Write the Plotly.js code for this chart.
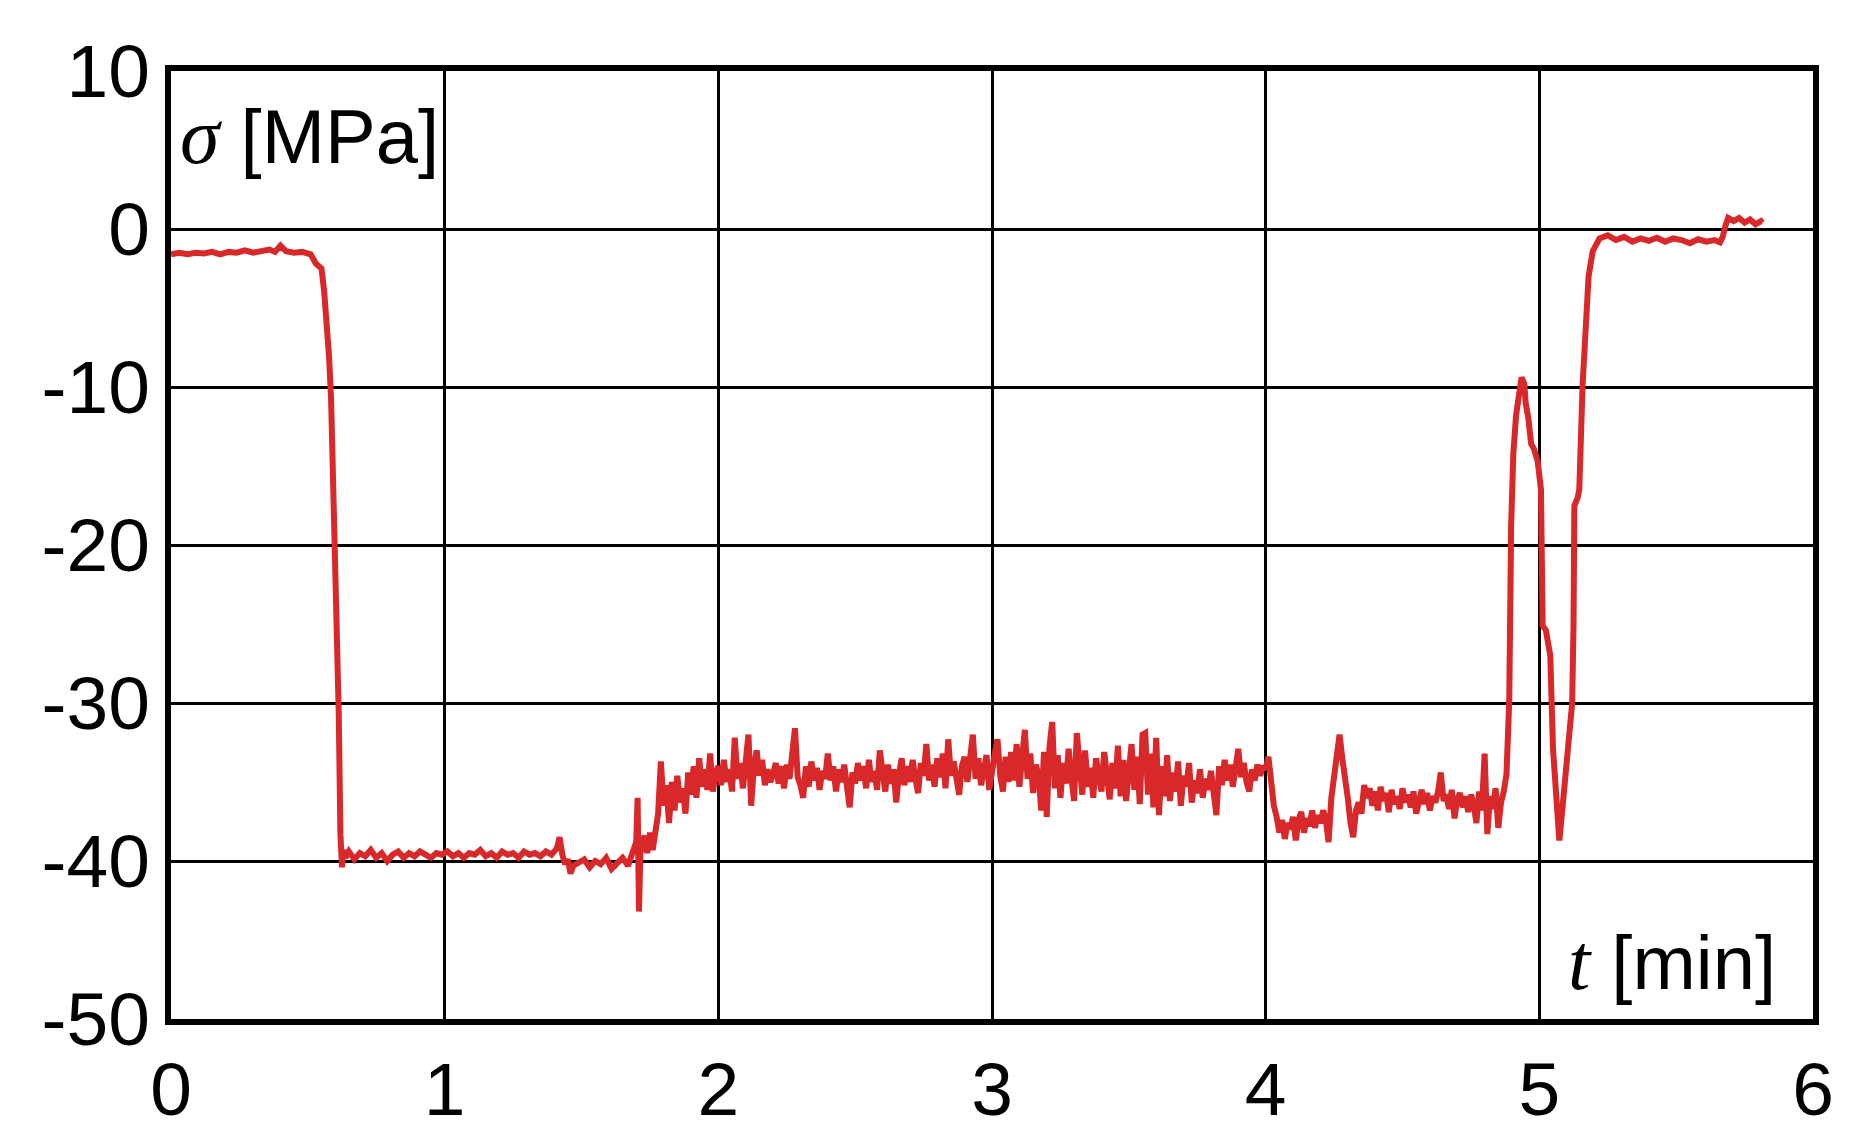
<!DOCTYPE html>
<html>
<head>
<meta charset="utf-8">
<script src="https://cdn.plot.ly/plotly-3.0.1.min.js"></script>
<style>
  html, body { margin: 0; padding: 0; background: #fff; }
  #myDiv { width: 1864px; height: 1148px; }
</style>
</head>
<body>
<div id="myDiv"></div>
<script>
// stress before and during the first load step (0 - 1.715 min)
var tHold = [0.00, 0.03, 0.06, 0.09, 0.12, 0.15, 0.18, 0.21, 0.24, 0.27,
  0.30, 0.33, 0.36, 0.38, 0.40, 0.42, 0.45, 0.48, 0.51, 0.53,
  0.55, 0.56, 0.57, 0.578, 0.585, 0.59, 0.60, 0.607, 0.613, 0.619,
  0.625, 0.63, 0.637, 0.65, 0.67, 0.69, 0.71, 0.73, 0.75, 0.77,
  0.79, 0.81, 0.83, 0.85, 0.87, 0.89, 0.91, 0.93, 0.95, 0.97,
  0.99, 1.01, 1.03, 1.05, 1.07, 1.09, 1.11, 1.13, 1.15, 1.17,
  1.19, 1.21, 1.23, 1.25, 1.27, 1.29, 1.31, 1.33, 1.35, 1.37,
  1.39, 1.41, 1.42, 1.43, 1.44, 1.45, 1.46, 1.47, 1.49, 1.51,
  1.53, 1.55, 1.57, 1.59, 1.61, 1.63, 1.65, 1.67, 1.69, 1.70,
  1.705, 1.71, 1.715];
var sHold = [-1.6, -1.5, -1.6, -1.5, -1.55, -1.45, -1.6, -1.45, -1.5, -1.35,
  -1.5, -1.4, -1.3, -1.45, -1.05, -1.4, -1.5, -1.45, -1.6, -2.2,
  -2.5, -4.0, -6.0, -8.2, -10.8, -14.6, -18.3, -23.6, -30.7, -38.3,
  -40.4, -39.3, -39.8, -39.4, -39.9, -39.5, -39.7, -39.3, -39.8, -39.5,
  -40.0, -39.6, -39.4, -39.8, -39.5, -39.7, -39.4, -39.6, -39.8, -39.5,
  -39.6, -39.4, -39.7, -39.5, -39.8, -39.5, -39.6, -39.3, -39.7, -39.5,
  -39.8, -39.4, -39.6, -39.5, -39.8, -39.4, -39.6, -39.5, -39.7, -39.4,
  -39.6, -39.2, -38.5, -39.6, -40.2, -39.9, -40.8, -40.3, -40.1, -39.9,
  -40.4, -40.0, -40.2, -39.8, -40.5, -40.1, -39.8, -40.3, -39.4, -38.8,
  -36.0, -43.2, -39.5];

// loaded phase (1.72 - 4.88 min)
var tLoad = [1.72, 1.73, 1.74, 1.75, 1.76, 1.77, 1.78, 1.79,
  1.80, 1.81, 1.82, 1.83, 1.84, 1.85, 1.86, 1.87, 1.88, 1.89,
  1.90, 1.91, 1.92, 1.93, 1.94, 1.95, 1.96, 1.97, 1.98, 1.99,
  2.00, 2.01, 2.02, 2.03, 2.04, 2.05, 2.06, 2.07, 2.08, 2.09,
  2.10, 2.11, 2.12, 2.13, 2.14, 2.15, 2.16, 2.17, 2.18, 2.19,
  2.20, 2.21, 2.22, 2.23, 2.24, 2.25, 2.26, 2.27, 2.28, 2.29,
  2.30, 2.31, 2.32, 2.33, 2.34, 2.35, 2.36, 2.37, 2.38, 2.39,
  2.40, 2.41, 2.42, 2.43, 2.44, 2.45, 2.46, 2.47, 2.48, 2.49,
  2.50, 2.51, 2.52, 2.53, 2.54, 2.55, 2.56, 2.57, 2.58, 2.59,
  2.60, 2.61, 2.62, 2.63, 2.64, 2.65, 2.66, 2.67, 2.68, 2.69,
  2.70, 2.71, 2.72, 2.73, 2.74, 2.75, 2.76, 2.77, 2.78, 2.79,
  2.80, 2.81, 2.82, 2.83, 2.84, 2.85, 2.86, 2.87, 2.88, 2.89,
  2.90, 2.91, 2.92, 2.93, 2.94, 2.95, 2.96, 2.97, 2.98, 2.99,
  3.00, 3.01, 3.02, 3.03, 3.04, 3.05, 3.06, 3.07, 3.08, 3.09,
  3.10, 3.11, 3.12, 3.13, 3.14, 3.15, 3.16, 3.17, 3.18, 3.19,
  3.20, 3.21, 3.22, 3.23, 3.24, 3.25, 3.26, 3.27, 3.28, 3.29,
  3.30, 3.31, 3.32, 3.33, 3.34, 3.35, 3.36, 3.37, 3.38, 3.39,
  3.40, 3.41, 3.42, 3.43, 3.44, 3.45, 3.46, 3.47, 3.48, 3.49,
  3.50, 3.51, 3.52, 3.53, 3.54, 3.55, 3.56, 3.57, 3.58, 3.59,
  3.60, 3.61, 3.62, 3.63, 3.64, 3.65, 3.66, 3.67, 3.68, 3.69,
  3.70, 3.71, 3.72, 3.73, 3.74, 3.75, 3.76, 3.77, 3.78, 3.79,
  3.80, 3.81, 3.82, 3.83, 3.84, 3.85, 3.86, 3.87, 3.88, 3.89,
  3.90, 3.91, 3.92, 3.93, 3.94, 3.95, 3.96, 3.97, 3.98, 3.99,
  4.00, 4.01, 4.02, 4.03, 4.04, 4.05, 4.06, 4.07, 4.08, 4.09,
  4.10, 4.11, 4.12, 4.13, 4.14, 4.15, 4.16, 4.17, 4.18, 4.19,
  4.20, 4.21, 4.22, 4.23, 4.24, 4.25, 4.26, 4.27, 4.28, 4.29,
  4.30, 4.31, 4.32, 4.33, 4.34, 4.35, 4.36, 4.37, 4.38, 4.39,
  4.40, 4.41, 4.42, 4.43, 4.44, 4.45, 4.46, 4.47, 4.48, 4.49,
  4.50, 4.51, 4.52, 4.53, 4.54, 4.55, 4.56, 4.57, 4.58, 4.59,
  4.60, 4.61, 4.62, 4.63, 4.64, 4.65, 4.66, 4.67, 4.68, 4.69,
  4.70, 4.71, 4.72, 4.73, 4.74, 4.75, 4.76, 4.77, 4.78, 4.79,
  4.80, 4.81, 4.82, 4.83, 4.84, 4.85, 4.86, 4.87, 4.88];
var sLoad = [-39.0, -38.4, -39.5, -38.2, -39.3, -38.0, -37.0, -33.7,
  -36.5, -35.2, -37.6, -35.0, -36.8, -34.6, -36.3, -35.4, -37.0, -34.4,
  -35.8, -34.0, -36.0, -33.5, -35.3, -34.2, -35.5, -33.2, -35.6, -34.4,
  -34.0, -35.2, -33.6, -35.0, -34.2, -35.6, -32.2, -34.8, -33.8, -35.4,
  -33.4, -32.0, -36.5, -34.0, -33.0, -34.6, -33.6, -35.2, -34.2, -35.0,
  -34.5, -33.8, -35.1, -34.0, -35.4, -33.9, -34.8, -33.4, -31.6, -34.7,
  -35.2, -36.0, -34.0, -35.3, -33.7, -34.9, -34.1, -35.5, -34.3, -34.8,
  -33.2, -34.9, -34.0, -35.6, -34.2, -35.0, -33.9, -35.3, -36.6, -34.4,
  -35.1, -33.8, -34.9, -34.0, -35.4, -33.6, -35.0, -34.3, -35.5, -33.0,
  -34.7, -35.6, -33.9, -35.1, -34.2, -36.3, -34.5, -33.5, -35.2, -34.0,
  -35.0, -33.6, -34.8, -35.7, -33.8, -34.6, -32.6, -34.9, -33.9, -35.3,
  -33.5, -34.7, -33.2, -35.4, -32.3, -34.6, -33.7, -35.1, -35.8, -34.0,
  -33.4, -35.0, -33.6, -32.0, -34.8, -33.5, -35.2, -34.1, -33.3, -35.5,
  -34.0, -33.2, -32.3, -34.6, -35.6, -33.4, -35.0, -33.1, -34.9, -32.6,
  -35.3, -33.5, -31.7, -34.8, -33.2, -35.7, -33.9, -34.6, -36.8, -33.1,
  -37.2, -32.8, -31.2, -35.4, -33.3, -36.0, -33.8, -35.1, -32.9, -34.7,
  -36.2, -31.9, -34.4, -35.8, -33.0, -35.3, -34.1, -36.0, -33.5, -34.9,
  -35.6, -33.1, -34.7, -36.1, -33.8, -35.4, -32.7, -35.9, -33.6, -36.2,
  -34.3, -32.6, -35.5, -33.4, -36.4, -32.0, -31.9, -35.8, -33.2, -36.6,
  -32.2, -37.1, -34.0, -35.9, -33.3, -36.2, -34.4, -35.6, -33.7, -36.5,
  -34.6, -35.3, -33.8, -36.3, -34.9, -35.7, -34.2, -36.0, -34.8, -35.5,
  -34.3, -35.9, -37.1, -34.0, -35.2, -33.6, -34.9, -33.9, -35.3, -34.1,
  -32.9, -34.7, -33.8, -35.0, -35.6, -34.2, -34.9, -33.9, -34.6, -34.0,
  -34.2, -33.4, -35.5, -36.5, -37.2, -38.2, -37.4, -38.6, -37.6, -38.0,
  -37.2, -38.7, -37.4, -36.9, -38.2, -37.3, -37.8, -36.8, -37.9, -37.1,
  -37.6, -36.8, -37.4, -38.8, -36.0, -34.7, -33.3, -32.0, -33.5, -34.6,
  -36.0, -37.6, -38.5, -36.8, -36.3, -37.0, -35.2, -36.0, -35.4, -36.5,
  -35.6, -36.8, -35.3, -36.2, -35.7, -36.9, -35.5, -36.4, -35.9, -36.7,
  -35.4, -36.3, -35.8, -36.6, -35.6, -37.0, -36.1, -35.5, -36.4, -35.7,
  -36.8, -35.9, -36.3, -35.6, -34.4, -36.2, -35.8, -36.7, -35.5, -37.3,
  -36.1, -35.7, -36.6, -35.9, -36.9, -35.8, -36.4, -37.6, -35.6, -36.8,
  -33.2, -38.3, -35.9, -36.7, -35.4, -37.9, -36.3, -35.6, -34.5];

// unloading / reloading and final release (4.885 - 5.815 min)
var tRelease = [4.885, 4.89, 4.897, 4.905, 4.915, 4.925, 4.935, 4.945, 4.95, 4.96,
  4.97, 4.98, 4.994, 5.006, 5.012, 5.024, 5.035, 5.04, 5.05, 5.06,
  5.066, 5.073, 5.08, 5.09, 5.10, 5.11, 5.12, 5.125, 5.128, 5.14,
  5.146, 5.158, 5.17, 5.18, 5.195, 5.22, 5.25, 5.28, 5.31, 5.34,
  5.37, 5.40, 5.43, 5.46, 5.49, 5.52, 5.55, 5.58, 5.61, 5.64,
  5.66, 5.67, 5.68, 5.69, 5.71, 5.73, 5.75, 5.77, 5.79, 5.81, 5.815];
var sRelease = [-32.0, -29.9, -18.7, -14.2, -11.8, -10.5, -9.4, -9.8, -11.0, -12.0,
  -13.6, -13.9, -14.7, -16.5, -25.1, -25.4, -26.5, -27.0, -32.9, -35.5,
  -38.0, -38.7, -37.5, -35.5, -33.0, -31.5, -30.0, -25.0, -17.5, -17.0,
  -16.5, -9.9, -5.4, -3.0, -1.4, -0.6, -0.4, -0.7, -0.5, -0.8,
  -0.6, -0.75, -0.55, -0.8, -0.6, -0.7, -0.9, -0.65, -0.8, -0.7,
  -0.85, -0.5, 0.2, 0.7, 0.5, 0.7, 0.4, 0.6, 0.3, 0.5, 0.4];

var xTickVals = [0, 1, 2, 3, 4, 5, 6];
var xTickText = ['0', '1', '2', '3', '4', '5', '6'];
var yTickVals = [-50, -40, -30, -20, -10, 0, 10];
var yTickText = ['-50', '-40', '-30', '-20', '-10', '0', '10'];

var trace1 = {
  x: tHold.concat(tLoad, tRelease),
  y: sHold.concat(sLoad, sRelease),
  mode: 'lines',
  line: {color: '#d8282a', width: 6},
  hoverinfo: 'skip',
  showlegend: false,
  type: 'scatter'
};

var font = "'Liberation Sans', Arial, sans-serif";

var layout = {
  width: 1864,
  height: 1148,
  margin: {l: 171, r: 51, t: 71, b: 129},
  paper_bgcolor: '#fff',
  plot_bgcolor: '#fff',
  font: {family: font, size: 75, color: '#000'},
  xaxis: {
    range: [0, 6],
    tickvals: xTickVals,
    ticktext: xTickText,
    showgrid: true, gridcolor: '#000', gridwidth: 3,
    zeroline: false,
    showline: true, mirror: true, linecolor: '#000', linewidth: 6,
    ticks: '',
    tickfont: {family: font, size: 75, color: '#000'}
  },
  yaxis: {
    range: [-50, 10],
    tickvals: yTickVals,
    ticktext: yTickText,
    showgrid: true, gridcolor: '#000', gridwidth: 3,
    zeroline: false,
    showline: true, mirror: true, linecolor: '#000', linewidth: 6,
    ticks: '',
    tickfont: {family: font, size: 75, color: '#000'}
  },
  annotations: [
    {
      xref: 'paper', yref: 'y', x: 0.004, y: 5.9,
      xanchor: 'left', yanchor: 'middle', showarrow: false,
      text: "<span style=\"font-family:'Liberation Serif',serif;font-style:italic;font-size:80px\">σ</span> [MPa]",
      font: {family: font, size: 76, color: '#000'}
    },
    {
      xref: 'x', yref: 'y', x: 5.872, y: -46.4,
      xanchor: 'right', yanchor: 'middle', showarrow: false,
      text: "<span style=\"font-family:'Liberation Serif',serif;font-style:italic;font-size:80px\">t</span> [min]",
      font: {family: font, size: 76, color: '#000'}
    }
  ]
};

Plotly.newPlot('myDiv', [trace1], layout, {displayModeBar: false, staticPlot: true});
</script>
</body>
</html>
